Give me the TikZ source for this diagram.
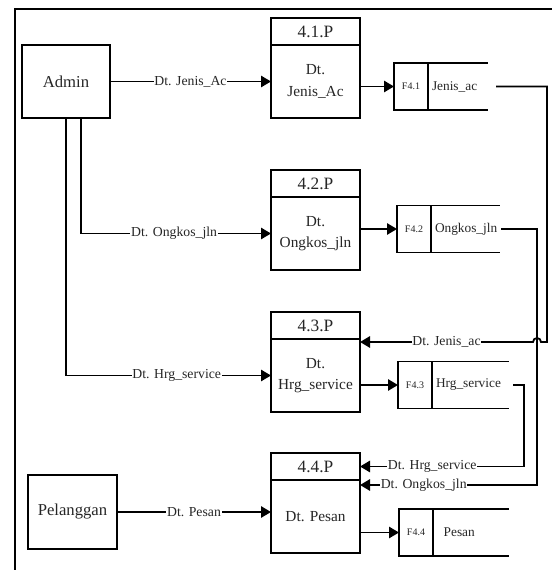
\documentclass[tikz,border=0pt]{standalone}
\usepackage{fontspec}
\setmainfont{Liberation Serif}
\usetikzlibrary{arrows.meta, positioning, calc}
\colorlet{BoxLine}{black}
\colorlet{TextMain}{black!85}

\begin{document}
\begin{tikzpicture}[
    x=0.75pt, y=-0.75pt,
    entity/.style={
        rectangle, draw=BoxLine, line width=1.35pt, outer sep=0pt,
        minimum width=66pt, minimum height=55pt,
        font=\fontsize{12.5}{15}\selectfont, text=TextMain
    },
    phead/.style={
        rectangle, draw=BoxLine, line width=1.35pt, outer sep=0pt,
        minimum width=66.75pt, minimum height=20.25pt,
        font=\fontsize{13}{15}\selectfont, text=TextMain
    },
    pbody/.style={
        rectangle, draw=BoxLine, line width=1.35pt, outer sep=0pt,
        minimum width=66.75pt, minimum height=54.75pt,
        font=\fontsize{11.5}{16}\selectfont, align=center, text=TextMain
    },
    storeid/.style={
        rectangle, draw=BoxLine, line width=1.35pt, outer sep=0pt,
        minimum width=25.5pt, minimum height=35.25pt, inner sep=0pt,
        font=\fontsize{7.5}{9}\selectfont, text=TextMain
    },
    storename/.style={
        rectangle, outer sep=0pt, inner xsep=3pt, inner ysep=0pt,
        text width=#1, align=left, minimum height=35.25pt,
        font=\fontsize{10}{12}\selectfont, text=TextMain
    },
    lbl/.style={fill=white, inner sep=0.6pt,
        font=\fontsize{10.3}{12}\selectfont, text=TextMain},
    arr/.style={-{Triangle[length=7.5pt, width=8.5pt]}, line width=1.35pt,
        draw=BoxLine},
    wire/.style={line width=1.35pt, draw=BoxLine},
    node distance=0pt
]
\useasboundingbox (0,0) rectangle (551,570);

% ===================================================================
% FRAME
% ===================================================================
\draw[wire] (15,9) rectangle (600,600);

% ===================================================================
% EXTERNAL ENTITIES
% ===================================================================
\node[entity] (adm) at (66, 81.5) {Admin};
\node[entity, minimum width=66.75pt, minimum height=55.5pt]
    (pel) at (72.5, 512) {Pelanggan};

% ===================================================================
% PROCESSES
% ===================================================================
\node[phead, anchor=north] (p1h) at (315.5, 18) {4.1.P};
\node[pbody, below=of p1h] (p1) {Dt.\\Jenis\_Ac};

\node[phead, anchor=north] (p2h) at (315.5, 170) {4.2.P};
\node[pbody, below=of p2h] (p2) {Dt.\\Ongkos\_jln};

\node[phead, anchor=north] (p3h) at (315.5, 312) {4.3.P};
\node[pbody, below=of p3h] (p3) {Dt.\\Hrg\_service};

\node[phead, anchor=north] (p4h) at (315.5, 453) {4.4.P};
\node[pbody, below=of p4h] (p4) {Dt. Pesan};

% ===================================================================
% DATA STORES
% ===================================================================
\node[storeid, anchor=west] (f1id) at (394, 86.5) {F4.1};
\node[storename=39pt, right=of f1id] (f1) {Jenis\_ac};

\node[storeid, anchor=west] (f2id) at (397, 229) {F4.2};
\node[storename=45.75pt, right=of f2id] (f2) {Ongkos\_jln};

\node[storeid, anchor=west] (f3id) at (398, 385) {F4.3};
\node[storename=51.75pt, right=of f3id] (f3) {Hrg\_service};

\node[storeid, anchor=west] (f4id) at (399, 532.5) {F4.4};
\node[storename=51pt, right=of f4id] (f4) {\hspace{5pt}Pesan};

\foreach \s in {f1, f2, f3, f4}
    \draw[wire] (\s id.north east) -- (\s.north east)
                (\s id.south east) -- (\s.south east);

% ===================================================================
% FLOWS
% ===================================================================
\draw[arr] (adm) -- (adm -| p1.west)
    node[lbl, midway] {Dt. Jenis\_Ac};
\draw[arr] ($(adm.south)+(15,0)$) |- (p2)
    node[lbl, pos=0.745] {Dt. Ongkos\_jln};
\draw[arr] (adm.south) |- (p3)
    node[lbl, pos=0.77] {Dt. Hrg\_service};
\draw[arr] (pel) -- (pel -| p4.west)
    node[lbl, midway] {Dt. Pesan};

% process -> store
\draw[arr] (p1.east |- f1id) -- (f1id);
\draw[arr] (p2.east |- f2id) -- (f2id);
\draw[arr] (p3.east |- f3id) -- (f3id);
\draw[arr] (p4.east |- f4id) -- (f4id);

% store -> process (return lines on the right)
\coordinate (jcol) at (547, 0);
\coordinate (ocol) at (537, 0);
\coordinate (hcol) at (524, 0);
\coordinate (p3in) at ($(p3.north east)+(0,3)$);
\coordinate (p4in) at ($(p4.north east)+(0,5)$);

\draw[arr] ($(f1.east)+(8,0)$) -| (jcol |- p3in)
    -- ($(ocol |- p3in)+(4,0)$) arc[start angle=0, end angle=180, radius=3pt]
    -- (p3in) node[lbl, midway] {Dt. Jenis\_ac};
\draw[arr] ($(f2.east)+(1,0)$) -| (ocol |- p4in) -- (p4in)
    node[lbl, pos=0.64] {Dt. Ongkos\_jln};
\draw[arr] ($(f3.east)+(4,0)$) -| (hcol |- p4h) -- (p4h.east)
    node[lbl, pos=0.56] {Dt. Hrg\_service};

\end{tikzpicture}
\end{document}
